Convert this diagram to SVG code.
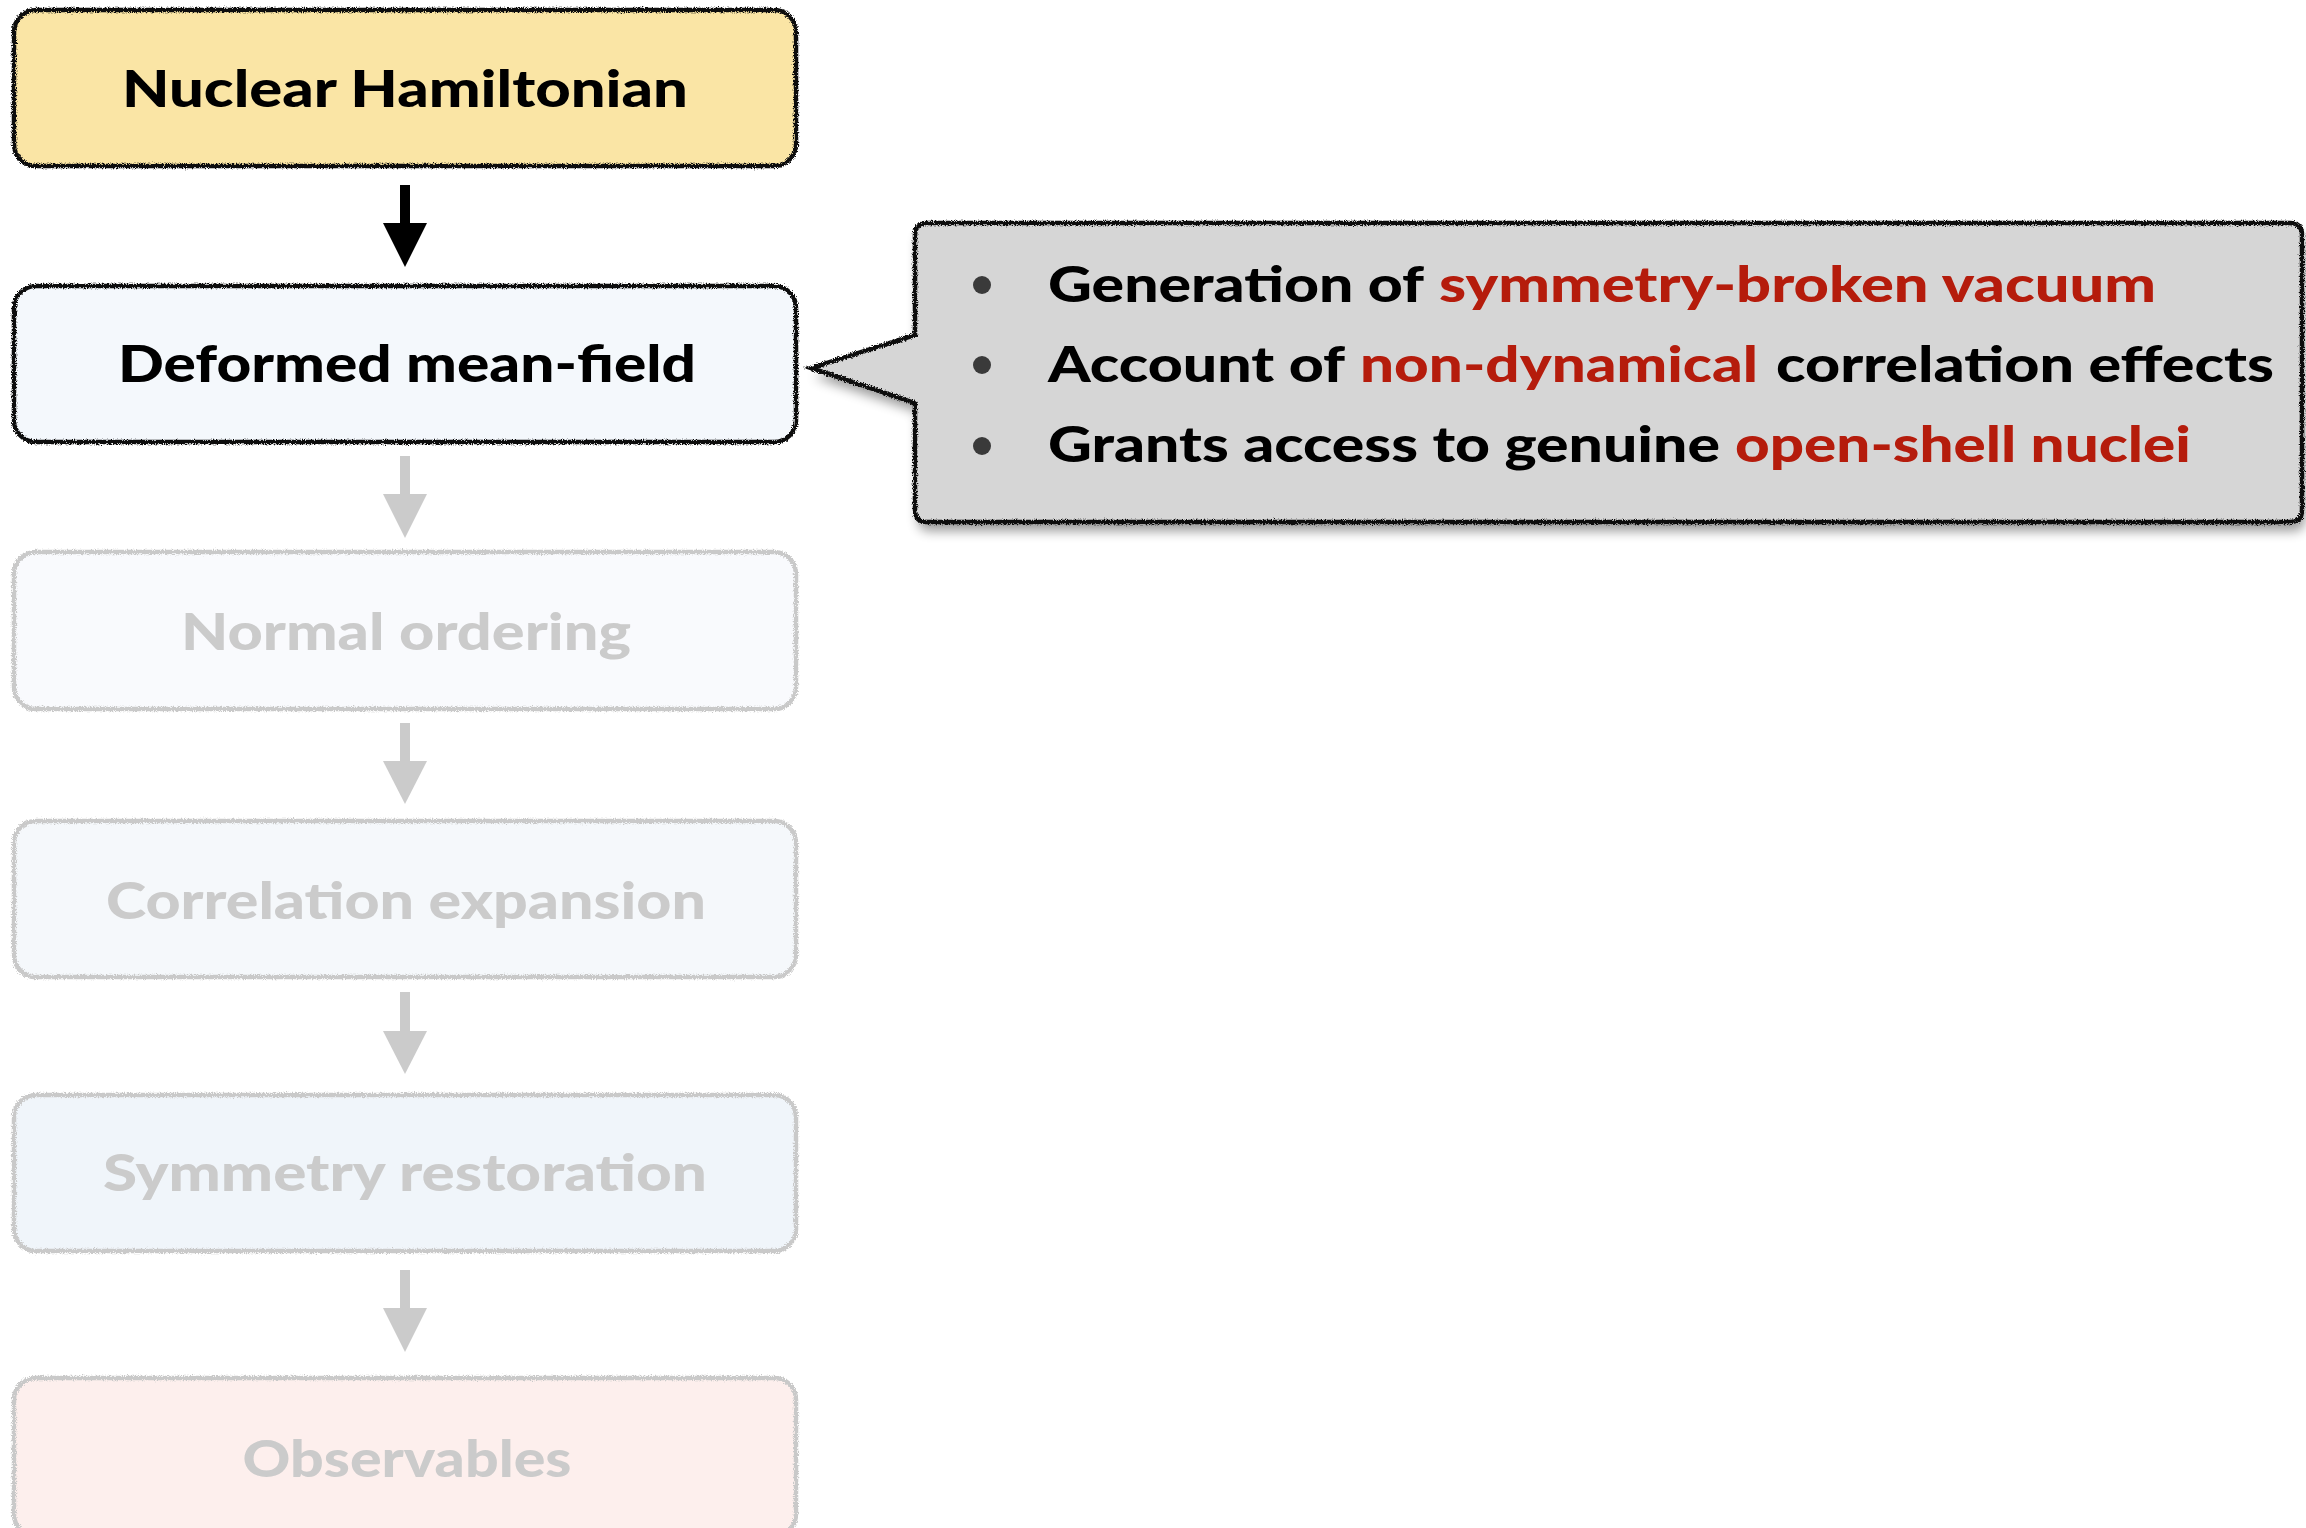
<svg xmlns="http://www.w3.org/2000/svg" width="2306" height="1528" viewBox="0 0 2306 1528">
<style>
  .lbl{font-family:"Lato","Liberation Sans",sans-serif;font-weight:900;font-size:52px;text-anchor:middle}
  .dark{fill:#000}
  .dim{fill:#CBCBCB}
  .edge{fill:none;stroke-width:4.5}
  .edgeDark{stroke:#111}
  .edgeDim{stroke:#C9C9C9}
  .cl{font-family:"Lato","Liberation Sans",sans-serif;font-weight:900;font-size:50px;fill:#000}
  .red{fill:#B51C0C}
  .bul{fill:#3A3A3A}
</style>
<defs>
  <filter id="rough" x="-3%" y="-5%" width="106%" height="110%">
    <feTurbulence type="fractalNoise" baseFrequency="0.9" numOctaves="2" seed="3" result="n"/>
    <feDisplacementMap in="SourceGraphic" in2="n" scale="5" xChannelSelector="R" yChannelSelector="G"/>
  </filter>
  <filter id="shadow" x="-5%" y="-10%" width="115%" height="135%">
    <feGaussianBlur in="SourceAlpha" stdDeviation="6"/>
    <feOffset dx="3" dy="9"/>
    <feComponentTransfer><feFuncA type="linear" slope="0.4"/></feComponentTransfer>
    <feMerge><feMergeNode/><feMergeNode in="SourceGraphic"/></feMerge>
  </filter>
</defs>

<g id="connectors">
  <g class="dark">
    <rect x="400" y="185" width="10" height="40"/>
    <polygon points="383,223 427,223 405,267"/>
  </g>
  <g class="dim">
    <rect x="400" y="456" width="10" height="40"/>
    <polygon points="383,494 427,494 405,538"/>
    <rect x="400" y="723" width="10" height="40"/>
    <polygon points="383,761 427,761 405,804"/>
    <rect x="400" y="992" width="10" height="41"/>
    <polygon points="383,1031 427,1031 405,1074"/>
    <rect x="400" y="1270" width="10" height="40"/>
    <polygon points="383,1308 427,1308 405,1352"/>
  </g>
</g>

<g id="node-hamiltonian">
  <rect x="14" y="10" width="782" height="156" rx="22" fill="#FAE5A5"/>
  <rect class="edge edgeDark" x="14" y="10" width="782" height="156" rx="22" filter="url(#rough)"/>
  <text class="lbl dark" x="405" y="107" textLength="566" lengthAdjust="spacingAndGlyphs">Nuclear Hamiltonian</text>
</g>

<g id="node-meanfield">
  <rect x="14" y="286" width="782" height="156" rx="22" fill="#F4F8FC"/>
  <rect class="edge edgeDark" x="14" y="286" width="782" height="156" rx="22" filter="url(#rough)"/>
  <text class="lbl dark" x="407" y="382" textLength="578" lengthAdjust="spacingAndGlyphs">Deformed mean-field</text>
</g>

<g id="node-normal">
  <rect x="14" y="552" width="782" height="157" rx="22" fill="#F9FAFD"/>
  <rect class="edge edgeDim" x="14" y="552" width="782" height="157" rx="22" filter="url(#rough)"/>
  <text class="lbl dim" x="406" y="650" textLength="450" lengthAdjust="spacingAndGlyphs">Normal ordering</text>
</g>

<g id="node-correlation">
  <rect x="14" y="821" width="782" height="156" rx="22" fill="#F5F8FB"/>
  <rect class="edge edgeDim" x="14" y="821" width="782" height="156" rx="22" filter="url(#rough)"/>
  <text class="lbl dim" x="406" y="919" textLength="600" lengthAdjust="spacingAndGlyphs">Correlation expansion</text>
</g>

<g id="node-symmetry">
  <rect x="14" y="1095" width="782" height="156" rx="22" fill="#F0F5FA"/>
  <rect class="edge edgeDim" x="14" y="1095" width="782" height="156" rx="22" filter="url(#rough)"/>
  <text class="lbl dim" x="405" y="1191" textLength="604" lengthAdjust="spacingAndGlyphs">Symmetry restoration</text>
</g>

<g id="node-observables">
  <rect x="14" y="1378" width="782" height="158" rx="22" fill="#FDEFED"/>
  <rect class="edge edgeDim" x="14" y="1378" width="782" height="158" rx="22" filter="url(#rough)"/>
  <text class="lbl dim" x="407" y="1477" textLength="329" lengthAdjust="spacingAndGlyphs">Observables</text>
</g>

<g id="callout">
  <path d="M 927 223 H 2290 Q 2302 223 2302 235 V 510 Q 2302 522 2290 522 H 927 Q 915 522 915 510 V 403 L 811 368 L 915 335 V 235 Q 915 223 927 223 Z" fill="#D6D6D6" filter="url(#shadow)"/>
  <path d="M 927 223 H 2290 Q 2302 223 2302 235 V 510 Q 2302 522 2290 522 H 927 Q 915 522 915 510 V 403 L 811 368 L 915 335 V 235 Q 915 223 927 223 Z" class="edge edgeDark" filter="url(#rough)"/>
  <circle class="bul" cx="982" cy="285" r="9"/>
  <circle class="bul" cx="982" cy="365" r="9"/>
  <circle class="bul" cx="982" cy="446" r="9"/>
  <text class="cl" y="302"><tspan x="1048" textLength="376" lengthAdjust="spacingAndGlyphs">Generation of</tspan><tspan class="red" x="1439" textLength="717" lengthAdjust="spacingAndGlyphs">symmetry-broken vacuum</tspan></text>
  <text class="cl" y="382"><tspan x="1048" textLength="297" lengthAdjust="spacingAndGlyphs">Account of</tspan><tspan class="red" x="1360" textLength="398" lengthAdjust="spacingAndGlyphs">non-dynamical</tspan><tspan x="1776" textLength="498" lengthAdjust="spacingAndGlyphs">correlation effects</tspan></text>
  <text class="cl" y="462"><tspan x="1048" textLength="672" lengthAdjust="spacingAndGlyphs">Grants access to genuine</tspan><tspan class="red" x="1735" textLength="456" lengthAdjust="spacingAndGlyphs">open-shell nuclei</tspan></text>
</g>
</svg>
